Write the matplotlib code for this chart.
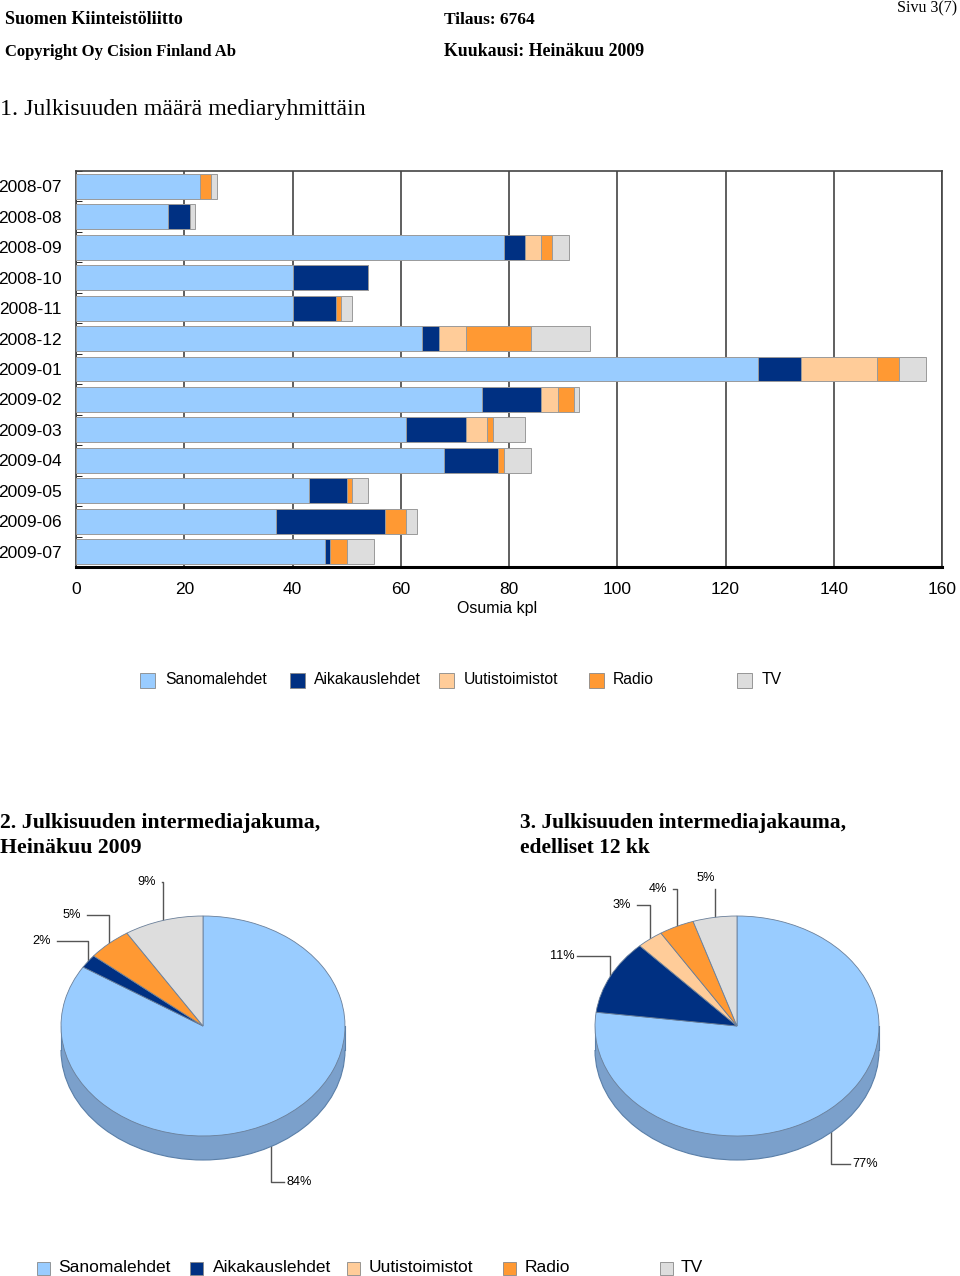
import numpy as np
import matplotlib
matplotlib.use('Agg')
import matplotlib.pyplot as plt
from matplotlib.patches import Rectangle, Ellipse, Arc

W, H = 960, 1276

months = ['2008-07', '2008-08', '2008-09', '2008-10', '2008-11', '2008-12', '2009-01',
          '2009-02', '2009-03', '2009-04', '2009-05', '2009-06', '2009-07']
sanomalehdet = [23, 17, 79, 40, 40, 64, 126, 75, 61, 68, 43, 37, 46]
aikakauslehdet = [0, 4, 4, 14, 8, 3, 8, 11, 11, 10, 7, 20, 1]
uutistoimistot = [0, 0, 3, 0, 0, 5, 14, 3, 4, 0, 0, 0, 0]
radio = [2, 0, 2, 0, 1, 12, 4, 3, 1, 1, 1, 4, 3]
tv = [1, 1, 3, 0, 2, 11, 5, 1, 6, 5, 3, 2, 5]

media = ['Sanomalehdet', 'Aikakauslehdet', 'Uutistoimistot', 'Radio', 'TV']
colors = ['#99ccff', '#003082', '#ffcc99', '#ff9933', '#dddddd']

pie_month = [84, 2, 0, 5, 9]      # Heinäkuu 2009, %
pie_12kk = [77, 11, 3, 4, 5]      # edelliset 12 kk, %

# label text positions (pixels) for the non-zero slices, in slice order
lab_month = [(299, 1182), (42, 941), (72, 915), (147, 882)]
lab_12kk = [(865, 1164), (562, 956), (622, 905), (658, 889), (706, 878)]

SANS = 'Liberation Sans'
SERIF = 'Liberation Serif'

fig = plt.figure(figsize=(W / 100, H / 100), dpi=100)


def px_axes(left, top, right, bottom):
    return fig.add_axes([left / W, 1 - bottom / H, (right - left) / W, (bottom - top) / H])


# ---- bar chart
ax = px_axes(76, 171, 942, 567)
series = [sanomalehdet, aikakauslehdet, uutistoimistot, radio, tv]
y = np.arange(len(months))
left = np.zeros(len(months))
for name, vals, c in zip(media, series, colors):
    ax.barh(y, vals, left=left, height=0.82, color=c, edgecolor='#9a9a9a',
            linewidth=0.7, label=name, zorder=3)
    left += np.array(vals)

ax.set_xlim(0, 160)
ax.set_ylim(12.5, -0.5)
ax.set_xticks(np.arange(0, 161, 20))
ax.set_yticks(y)
ax.set_yticklabels(months)
ax.set_yticks(np.arange(-0.5, 13, 1), minor=True)
ax.tick_params(axis='y', which='major', length=0, pad=10, labelsize=12.5)
ax.tick_params(axis='y', which='minor', direction='in', length=4, color='black')
ax.tick_params(axis='x', length=0, pad=11, labelsize=12.5)
for lbl in ax.get_xticklabels() + ax.get_yticklabels():
    lbl.set_fontfamily(SANS)
ax.xaxis.grid(True, color='#444444', linewidth=1.2, zorder=0)
ax.set_axisbelow(True)
for s in ['top', 'right', 'left']:
    ax.spines[s].set_color('#444444')
    ax.spines[s].set_linewidth(1.2)
ax.spines['bottom'].set_linewidth(2.2)
ax.set_xlabel('Osumia kpl', fontsize=11.5, family=SANS, labelpad=4)
ax.xaxis.set_label_coords((497 - 76) / 866, -0.085)

# ---- pies
RX, RY, DEPTH = 142, 110, 24


def draw_pie(cx, cy, values):
    d = DEPTH / RY
    a = px_axes(cx - 1.05 * RX, cy - 1.05 * RY, cx + 1.05 * RX, cy + RY + DEPTH + 0.05 * RY)
    a.add_patch(Ellipse((0, -d), 2, 2, facecolor='#7ba0cb', edgecolor='none', zorder=1))
    a.add_patch(Rectangle((-1, -d), 2, d, facecolor='#7ba0cb', edgecolor='none', zorder=1))
    a.add_patch(Arc((0, -d), 2, 2, theta1=180, theta2=360, color='#5a7fa8', lw=0.8, zorder=2))
    a.plot([-1, -1], [0, -d], color='#5a7fa8', lw=0.8, zorder=2)
    a.plot([1, 1], [0, -d], color='#5a7fa8', lw=0.8, zorder=2)
    vals = [v for v in values if v > 0]
    cols = [c for v, c in zip(values, colors) if v > 0]
    wedges, _ = a.pie(vals, colors=cols, startangle=90, counterclock=False, radius=1,
                      wedgeprops=dict(edgecolor='#6a7f99', linewidth=0.6, zorder=3))
    a.set_aspect('auto')
    a.set_xlim(-1.05, 1.05)
    a.set_ylim(-1 - d - 0.05, 1.05)
    a.axis('off')
    return vals, wedges


ov = fig.add_axes([0, 0, 1, 1], facecolor='none')
ov.set_xlim(0, W)
ov.set_ylim(H, 0)
ov.axis('off')


def leader_labels(cx, cy, vals, labels):
    total = float(sum(vals))
    start = 90.0
    for v, (tx, ty) in zip(vals, labels):
        mid = np.radians(start - 360 * v / total / 2)
        start -= 360 * v / total
        px = cx + RX * np.cos(mid)
        py = cy - RY * np.sin(mid)
        if abs(tx - px) < 15:
            ov.plot([px, px], [py, ty + 11], color='#555555', lw=1)
        else:
            ex = tx - 15 if tx > px else tx + 15
            ov.plot([px, px, ex], [py, ty, ty], color='#555555', lw=1)
        ov.text(tx, ty, '%d%%' % round(100 * v / total), ha='center', va='center',
                fontsize=9.2, family=SANS)


v1, _ = draw_pie(203, 1026, pie_month)
v2, _ = draw_pie(737, 1026, pie_12kk)
leader_labels(203, 1026, v1, lab_month)
leader_labels(737, 1026, v2, lab_12kk)

# ---- legends
def legend_row(xs, yc, size, fs):
    for (sx, tx), name, c in zip(xs, media, colors):
        ov.add_patch(Rectangle((sx, yc - size / 2), size, size, facecolor=c,
                               edgecolor='#888888', linewidth=0.6))
        ov.text(tx, yc, name, ha='left', va='center', fontsize=fs, family=SANS)


legend_row([(140, 165), (290, 314), (439, 464), (589, 613), (737, 762)], 680, 15, 11.3)
legend_row([(37, 58), (190, 213), (347, 369), (503, 525), (660, 681)], 1268, 13, 12.5)

# ---- page texts
ov.text(5, 20, 'Suomen Kiinteistöliitto', fontsize=13, weight='bold', family=SERIF, va='center')
ov.text(5, 52, 'Copyright Oy Cision Finland Ab', fontsize=12, weight='bold', family=SERIF, va='center')
ov.text(444, 20, 'Tilaus: 6764', fontsize=12.5, weight='bold', family=SERIF, va='center')
ov.text(444, 52, 'Kuukausi: Heinäkuu 2009', fontsize=12.8, weight='bold', family=SERIF, va='center')
ov.text(957, 8, 'Sivu 3(7)', fontsize=11.5, family=SERIF, va='center', ha='right')
ov.text(0, 110, '1. Julkisuuden määrä mediaryhmittäin', fontsize=17.2, family=SERIF, va='center')
ov.text(0, 823, '2. Julkisuuden intermediajakuma,', fontsize=15.7, weight='bold', family=SERIF, va='center')
ov.text(0, 848, 'Heinäkuu 2009', fontsize=15.7, weight='bold', family=SERIF, va='center')
ov.text(520, 823, '3. Julkisuuden intermediajakauma,', fontsize=15.5, weight='bold', family=SERIF, va='center')
ov.text(520, 848, 'edelliset 12 kk', fontsize=15.5, weight='bold', family=SERIF, va='center')

fig.savefig('out.png', dpi=100)
